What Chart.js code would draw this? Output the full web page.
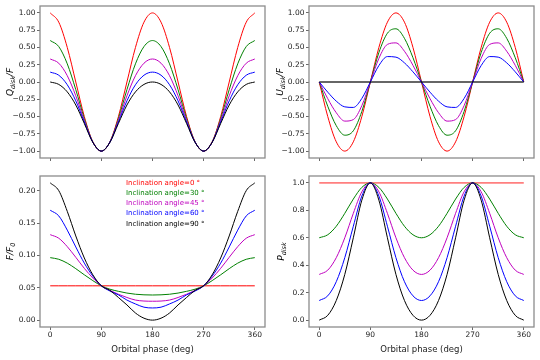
<!DOCTYPE html>
<html>
<head>
<meta charset="utf-8">
<script src="https://cdn.jsdelivr.net/npm/chart.js@4"></script>
<style>
  html, body { margin: 0; padding: 0; background: #fff; }
  #wrap { position: relative; width: 540px; height: 360px; }
  .cell { position: absolute; }
</style>
</head>
<body>
<div id="wrap">
  <div class="cell" style="left:0;top:0;width:270px;height:170px"><canvas id="cQ"></canvas></div>
  <div class="cell" style="left:270px;top:0;width:270px;height:170px"><canvas id="cU"></canvas></div>
  <div class="cell" style="left:0;top:170px;width:270px;height:190px"><canvas id="cF"></canvas></div>
  <div class="cell" style="left:270px;top:170px;width:270px;height:190px"><canvas id="cP"></canvas></div>
</div>
<script>
// orbital phase samples (deg)
var phase = [0,15,30,45,60,75,90,105,120,135,150,165,180,195,210,225,240,255,270,285,300,315,330,345,360];
var xTicks = [0,90,180,270,360];
var inclinations = [0,30,45,60,90];
var lineColors = ['#ff0000','#008000','#bf00bf','#0000ff','#000000'];

// Q_disk / F
var q0  = [1,0.866,0.5,0,-0.5,-0.866,-1,-0.866,-0.5,0,0.5,0.866,1,0.866,0.5,0,-0.5,-0.866,-1,-0.866,-0.5,0,0.5,0.866,1];
var q30 = [0.6,0.513,0.263,-0.111,-0.529,-0.868,-1,-0.868,-0.529,-0.111,0.263,0.513,0.6,0.513,0.263,-0.111,-0.529,-0.868,-1,-0.868,-0.529,-0.111,0.263,0.513,0.6];
var q45 = [0.333,0.272,0.091,-0.2,-0.556,-0.87,-1,-0.87,-0.556,-0.2,0.091,0.272,0.333,0.272,0.091,-0.2,-0.556,-0.87,-1,-0.87,-0.556,-0.2,0.091,0.272,0.333];
var q60 = [0.143,0.098,-0.04,-0.273,-0.579,-0.873,-1,-0.873,-0.579,-0.273,-0.04,0.098,0.143,0.098,-0.04,-0.273,-0.579,-0.873,-1,-0.873,-0.579,-0.273,-0.04,0.098,0.143];
var q90 = [0,-0.035,-0.143,-0.333,-0.6,-0.874,-1,-0.874,-0.6,-0.333,-0.143,-0.035,0,-0.035,-0.143,-0.333,-0.6,-0.874,-1,-0.874,-0.6,-0.333,-0.143,-0.035,0];

// U_disk / F
var u0  = [0,-0.5,-0.866,-1,-0.866,-0.5,0,0.5,0.866,1,0.866,0.5,0,-0.5,-0.866,-1,-0.866,-0.5,0,0.5,0.866,1,0.866,0.5,0];
var u30 = [0,-0.351,-0.632,-0.77,-0.706,-0.426,0,0.426,0.706,0.77,0.632,0.351,0,-0.351,-0.632,-0.77,-0.706,-0.426,0,0.426,0.706,0.77,0.632,0.351,0];
var u45 = [0,-0.241,-0.445,-0.566,-0.544,-0.342,0,0.342,0.544,0.566,0.445,0.241,0,-0.241,-0.445,-0.566,-0.544,-0.342,0,0.342,0.544,0.566,0.445,0.241,0];
var u60 = [0,-0.147,-0.277,-0.36,-0.368,-0.238,0,0.238,0.368,0.36,0.277,0.147,0,-0.147,-0.277,-0.36,-0.368,-0.238,0,0.238,0.368,0.36,0.277,0.147,0];
var u90 = [0,0,0,0,0,0,0,0,0,0,0,0,0,0,0,0,0,0,0,0,0,0,0,0,0];

// F / F0
var f0  = [0.053,0.053,0.053,0.053,0.053,0.053,0.053,0.053,0.053,0.053,0.053,0.053,0.053,0.053,0.053,0.053,0.053,0.053,0.053,0.053,0.053,0.053,0.053,0.053,0.053];
var f30 = [0.0965,0.094,0.088,0.0795,0.07,0.061,0.053,0.0478,0.0445,0.0418,0.04,0.0391,0.0388,0.0391,0.04,0.0418,0.0445,0.0478,0.053,0.061,0.07,0.0795,0.088,0.094,0.0965];
var f45 = [0.132,0.1265,0.1135,0.097,0.08,0.065,0.053,0.046,0.04,0.035,0.031,0.0295,0.0292,0.0295,0.031,0.035,0.04,0.046,0.053,0.065,0.08,0.097,0.1135,0.1265,0.132];
var f60 = [0.1697,0.161,0.139,0.113,0.088,0.068,0.053,0.045,0.039,0.031,0.025,0.02,0.0188,0.02,0.025,0.031,0.039,0.045,0.053,0.068,0.088,0.113,0.139,0.161,0.1697];
var f90 = [0.212,0.2,0.168,0.13,0.096,0.07,0.053,0.046,0.035,0.0235,0.011,0.003,0,0.003,0.011,0.0235,0.035,0.046,0.053,0.07,0.096,0.13,0.168,0.2,0.212];

// P_disk
var p0  = [1,1,1,1,1,1,1,1,1,1,1,1,1,1,1,1,1,1,1,1,1,1,1,1,1];
var p30 = [0.6,0.622,0.684,0.778,0.882,0.967,1,0.967,0.882,0.778,0.684,0.622,0.6,0.622,0.684,0.778,0.882,0.967,1,0.967,0.882,0.778,0.684,0.622,0.6];
var p45 = [0.333,0.364,0.455,0.6,0.778,0.935,1,0.935,0.778,0.6,0.455,0.364,0.333,0.364,0.455,0.6,0.778,0.935,1,0.935,0.778,0.6,0.455,0.364,0.333];
var p60 = [0.143,0.177,0.28,0.455,0.684,0.904,1,0.904,0.684,0.455,0.28,0.177,0.143,0.177,0.28,0.455,0.684,0.904,1,0.904,0.684,0.455,0.28,0.177,0.143];
var p90 = [0,0.035,0.143,0.333,0.6,0.874,1,0.874,0.6,0.333,0.143,0.035,0,0.035,0.143,0.333,0.6,0.874,1,0.874,0.6,0.333,0.143,0.035,0];

var FONT = "'DejaVu Sans', sans-serif";

function fmtMinus(v, d){
	var s = Math.abs(v).toFixed(d);
	return (v < -1e-9 ? '\u2212' : '') + s;
}

// frame + y title (with subscript) + optional colored-text legend
var decorPlugin = {
	id: 'decor',
	afterDraw: function(chart){
		var o = chart.options.plugins.decor || {};
		var a = chart.chartArea, ctx = chart.ctx;
		ctx.save();
		ctx.strokeStyle = '#8c8c8c';
		ctx.lineWidth = 1.3;
		ctx.strokeRect(a.left, a.top, a.right - a.left, a.bottom - a.top);

		if(o.ytitle){
			var parts = o.ytitle;
			var w = 0, i;
			for(i=0;i<parts.length;i++){
				ctx.font = 'italic ' + (parts[i].sub ? 6.4 : 9) + 'px ' + FONT;
				parts[i].w = ctx.measureText(parts[i].t).width;
				w += parts[i].w;
			}
			ctx.translate(o.ytitleX, (a.top + a.bottom)/2);
			ctx.rotate(-Math.PI/2);
			ctx.fillStyle = '#000';
			ctx.textBaseline = 'alphabetic';
			var x = -w/2;
			for(i=0;i<parts.length;i++){
				ctx.font = 'italic ' + (parts[i].sub ? 6.4 : 9) + 'px ' + FONT;
				ctx.fillText(parts[i].t, x, parts[i].sub ? 5.4 : 3.2);
				x += parts[i].w;
			}
			ctx.setTransform(1,0,0,1,0,0);
		}

		if(o.legend){
			ctx.font = '7px ' + FONT;
			ctx.textBaseline = 'middle';
			ctx.textAlign = 'left';
			for(var k=0;k<o.legend.length;k++){
				ctx.fillStyle = lineColors[k];
				ctx.fillText(o.legend[k], o.legendX, o.legendY + k*10.3);
			}
		}
		ctx.restore();
	}
};

function buildDatasets(series, thick){
	var ds = [];
	for(var k=0;k<series.length;k++){
		ds.push({
			data: series[k],
			borderColor: lineColors[k],
			borderWidth: 1,
			pointRadius: 0,
			fill: false,
			cubicInterpolationMode: 'monotone',
			order: series.length - k
		});
	}
	if(thick !== undefined){
		ds[thick].borderWidth = 1.8;
		ds[thick].borderColor = thick === 0 ? 'rgba(255,0,0,0.5)' : 'rgba(0,0,0,0.6)';
	}
	return ds;
}

function makeChart(id, cfg){
	return new Chart(document.getElementById(id), {
		type: 'line',
		data: { labels: phase, datasets: buildDatasets(cfg.series, cfg.thick) },
		options: {
			responsive: false,
			animation: false,
			maintainAspectRatio: false,
			layout: { padding: { top: cfg.padTop, right: cfg.padRight, left: 0, bottom: 0 } },
			plugins: { legend: { display: false }, tooltip: { enabled: false }, decor: cfg.decor },
			scales: {
				x: {
					type: 'linear', min: -18, max: 378,
					afterBuildTicks: function(s){ s.ticks = xTicks.map(function(v){ return {value: v}; }); },
					afterFit: function(s){ s.height = cfg.xHeight; },
					grid: { display: true, drawOnChartArea: false, drawTicks: true, tickLength: 3, color: '#444', lineWidth: 0.8 },
					border: { display: false },
					ticks: {
						display: cfg.xLabels, padding: 1, color: '#222', maxRotation: 0,
						font: { family: FONT, size: 7.5 },
						callback: function(v){ return String(v); }
					},
					title: {
						display: cfg.xLabels, text: 'Orbital phase (deg)', color: '#222',
						font: { family: FONT, size: 8.5 }, padding: { top: 0, bottom: 5 }
					}
				},
				y: {
					min: cfg.ymin, max: cfg.ymax,
					afterBuildTicks: function(s){ s.ticks = cfg.yTicks.map(function(v){ return {value: v}; }); },
					afterFit: function(s){ s.width = cfg.yWidth; },
					grid: { display: true, drawOnChartArea: false, drawTicks: true, tickLength: 3, color: '#444', lineWidth: 0.8 },
					border: { display: false },
					ticks: {
						padding: 1.5, color: '#222',
						font: { family: FONT, size: 7.5 },
						callback: function(v){ return fmtMinus(v, cfg.yDec); }
					}
				}
			}
		},
		plugins: [decorPlugin]
	});
}

function sizeCanvas(id, w, h){
	var c = document.getElementById(id);
	c.width = w; c.height = h;
	c.style.width = w + 'px'; c.style.height = h + 'px';
}
sizeCanvas('cQ', 270, 170);
sizeCanvas('cU', 270, 170);
sizeCanvas('cF', 270, 190);
sizeCanvas('cP', 270, 190);

var qTicks = [-1,-0.75,-0.5,-0.25,0,0.25,0.5,0.75,1];

makeChart('cQ', {
	series: [q0,q30,q45,q60,q90],
	ymin: -1.1, ymax: 1.1, yTicks: qTicks, yDec: 2,
	padTop: 5, padRight: 5, yWidth: 40, xHeight: 12, xLabels: false,
	decor: { ytitle: [{t:'Q'},{t:'disk',sub:true},{t:'/F'}], ytitleX: 10 }
});

makeChart('cU', {
	series: [u0,u30,u45,u60,u90], thick: 4,
	ymin: -1.1, ymax: 1.1, yTicks: qTicks, yDec: 2,
	padTop: 5, padRight: 6, yWidth: 39, xHeight: 12, xLabels: false,
	decor: { ytitle: [{t:'U'},{t:'disk',sub:true},{t:'/F'}], ytitleX: 10 }
});

makeChart('cF', {
	series: [f0,f30,f45,f60,f90],
	ymin: -0.0106, ymax: 0.2226, yTicks: [0,0.05,0.1,0.15,0.2], yDec: 2,
	padTop: 4, padRight: 5, yWidth: 40, xHeight: 33, xLabels: true,
	decor: {
		ytitle: [{t:'F'},{t:'/F'},{t:'0',sub:true}], ytitleX: 10,
		legend: inclinations.map(function(v){ return 'Inclination angle=' + v + ' \u00b0'; }),
		legendX: 126, legendY: 12.7
	}
});

makeChart('cP', {
	series: [p0,p30,p45,p60,p90], thick: 0,
	ymin: -0.05, ymax: 1.05, yTicks: [0,0.2,0.4,0.6,0.8,1], yDec: 1,
	padTop: 4, padRight: 6, yWidth: 39, xHeight: 33, xLabels: true,
	decor: { ytitle: [{t:'P'},{t:'disk',sub:true}], ytitleX: 11 }
});
</script>
</body>
</html>
